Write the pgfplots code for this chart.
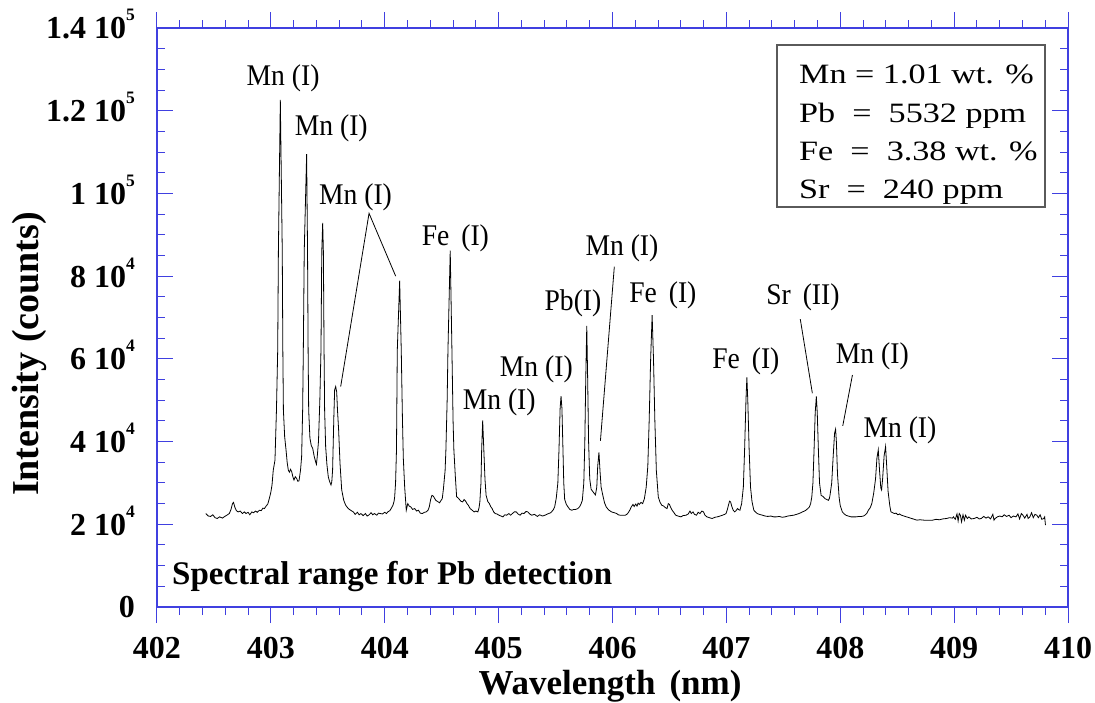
\documentclass[border=0pt]{standalone}
\usepackage{pgfplots}
\pgfplotsset{compat=1.18}
\usepackage{fontspec}
\setmainfont{Liberation Serif}
\newfontfamily\boxfont[FakeStretch=1.22]{Liberation Serif}
\newfontfamily\labfamily[FakeStretch=0.92]{Liberation Serif}

\definecolor{axisblue}{RGB}{64,64,224}
\definecolor{boxgray}{RGB}{90,90,90}

\newcommand\tickfont{\fontsize{32}{36}\selectfont\bfseries}
\newcommand\labfont{\labfamily\fontsize{30}{34}\selectfont}
\newcommand\boxtext{\boxfont\fontsize{28}{32}\selectfont}
\newcommand\tenexp[1]{10\raisebox{18pt}{\fontsize{17.5}{18}\selectfont\bfseries #1}}

\begin{document}
\begin{tikzpicture}
\begin{axis}[
  at={(157pt,-607pt)}, anchor=south west,
  scale only axis, width=911pt, height=579pt,
  xmin=402, xmax=410, ymin=0, ymax=140,
  xtick={402,403,...,410},
  xticklabels={402,403,404,405,406,407,408,409,410},
  minor x tick num=4,
  ytick={0,20,...,140},
  yticklabels={0,{2 \tenexp{4}},{4 \tenexp{4}},{6 \tenexp{4}},{8 \tenexp{4}},{1 \tenexp{5}},{1.2 \tenexp{5}},{1.4 \tenexp{5}}},
  minor y tick num=3,
  xtick align=outside, ytick align=inside,
  major tick length=16pt, minor tick length=8pt,
  axis line style={axisblue, line width=1.3pt},
  tick style={axisblue, line width=1pt},
  xticklabel style={font=\tickfont, anchor=base, inner sep=0pt, yshift=-35.3pt},
  yticklabel style={font=\tickfont, anchor=base east, inner sep=0pt, xshift=-22pt, yshift=-10.9pt},
  xlabel={Wavelength\hspace{0.4em}(nm)},
  xlabel style={font=\fontsize{35}{40}\selectfont\bfseries, at={(rel axis cs:0.4973,0)}, anchor=base, yshift=-87.5pt, inner sep=0pt},
  ylabel={Intensity (counts)},
  ylabel style={font=\fontsize{38}{42}\selectfont\bfseries, at={(rel axis cs:0,0.437)}, anchor=base, yshift=118.7pt, inner sep=0pt},
  clip=false,
]
% emission spectrum, intensity in thousands of counts
\addplot[black, line width=0.8pt] table {
402.428 22.6
402.450 22.0
402.471 21.9
402.490 22.3
402.510 21.6
402.529 21.4
402.550 21.8
402.575 21.5
402.595 21.9
402.613 22.2
402.635 22.6
402.650 23.6
402.663 25.0
402.672 25.3
402.684 24.1
402.697 23.3
402.712 23.0
402.731 23.2
402.750 22.6
402.768 23.0
402.781 22.6
402.800 22.9
402.815 22.3
402.833 23.0
402.848 22.8
402.866 23.2
402.880 22.9
402.899 23.4
402.915 23.3
402.930 23.9
402.943 23.8
402.958 24.4
402.973 24.9
402.988 26.4
403.000 27.8
403.010 29.5
403.021 33.1
403.036 35.5
403.049 47.6
403.060 62.2
403.066 86.0
403.083 122.6
403.100 86.0
403.105 62.2
403.110 47.6
403.121 41.2
403.133 38.0
403.143 35.0
403.153 33.1
403.163 32.6
403.173 33.3
403.183 32.7
403.193 31.5
403.203 30.7
403.214 31.5
403.226 31.1
403.237 30.4
403.247 30.5
403.260 33.0
403.270 36.3
403.279 47.6
403.285 62.2
403.293 86.0
403.314 109.5
403.322 86.0
403.327 62.2
403.332 47.6
403.343 40.8
403.355 39.0
403.367 38.4
403.380 36.5
403.393 35.1
403.400 34.5
403.407 36.3
403.418 40.0
403.430 50.0
403.440 62.2
403.447 86.0
403.455 92.9
403.461 86.0
403.467 62.2
403.472 47.6
403.481 38.8
403.492 34.5
403.504 31.5
403.515 30.4
403.528 29.5
403.535 30.3
403.542 33.1
403.553 46.0
403.560 52.5
403.569 53.3
403.578 52.0
403.585 47.6
403.595 42.8
403.607 34.8
403.622 28.3
403.640 25.8
403.657 24.6
403.680 23.8
403.700 23.4
403.724 23.0
403.740 22.4
403.760 22.9
403.775 22.3
403.791 22.6
403.810 22.1
403.830 22.6
403.845 22.0
403.859 22.2
403.880 22.8
403.895 22.3
403.909 22.6
403.930 22.2
403.945 22.7
403.960 22.6
403.980 22.5
404.000 22.9
404.015 22.6
404.027 23.0
404.045 23.3
404.060 24.0
404.072 24.6
404.082 25.6
404.087 26.6
404.095 30.0
404.103 38.0
404.110 62.0
404.131 78.9
404.145 62.0
404.155 46.0
404.163 36.0
404.175 29.0
404.189 23.4
404.202 25.0
404.215 24.4
404.229 24.2
404.245 23.6
404.263 23.8
404.280 23.2
404.296 23.4
404.312 22.7
404.330 22.6
404.348 22.9
404.364 23.0
404.380 23.4
404.391 24.2
404.403 26.0
404.414 27.0
404.423 26.9
404.431 26.6
404.448 25.8
404.465 25.5
404.481 25.2
404.495 25.8
404.505 26.2
404.515 28.5
404.530 33.0
404.537 38.0
404.548 50.0
404.555 62.0
404.575 86.2
404.590 62.0
404.600 45.0
404.607 38.0
404.620 31.5
404.631 26.7
404.650 26.2
404.668 25.6
404.684 25.4
404.697 26.0
404.710 25.6
404.722 25.0
404.734 24.6
404.750 23.8
404.768 23.4
404.785 23.0
404.800 23.2
404.818 23.0
404.828 24.0
404.835 25.4
404.845 30.0
404.851 38.0
404.860 45.1
404.870 38.0
404.880 31.0
404.890 27.0
404.905 25.5
404.919 25.0
404.930 24.3
404.943 23.8
404.956 23.0
404.970 22.6
404.985 22.5
405.003 22.2
405.020 22.0
405.037 21.8
405.055 22.3
405.071 22.2
405.090 22.6
405.105 22.2
405.121 22.6
405.138 23.0
405.155 23.0
405.170 22.5
405.189 22.2
405.205 22.7
405.222 22.6
405.240 23.1
405.256 23.0
405.273 22.5
405.290 22.2
405.315 22.4
405.340 21.9
405.360 22.3
405.385 22.0
405.407 22.2
405.430 22.5
405.458 22.8
405.480 23.5
405.492 24.2
405.506 26.3
405.520 30.0
405.530 38.0
405.540 48.0
405.548 51.0
405.556 48.0
405.565 38.0
405.572 30.0
405.580 26.0
405.595 24.8
405.609 24.2
405.625 23.6
405.643 23.4
405.660 23.6
405.677 23.6
405.695 23.8
405.710 24.2
405.725 25.0
405.735 25.8
405.748 30.0
405.757 40.0
405.765 55.0
405.774 68.0
405.782 55.0
405.790 40.0
405.800 31.0
405.812 28.5
405.830 27.8
405.850 27.1
405.862 29.0
405.870 34.0
405.881 37.4
405.890 33.0
405.900 29.0
405.915 27.0
405.930 25.2
405.945 24.2
405.965 23.5
405.991 23.0
406.015 22.8
406.037 22.6
406.050 22.3
406.067 22.2
406.090 22.2
406.113 22.2
406.130 22.5
406.143 23.0
406.155 23.6
406.165 24.2
406.180 24.8
406.190 24.3
406.204 24.9
406.215 24.4
406.225 25.1
406.235 24.8
406.250 25.3
406.265 25.0
406.280 26.2
406.296 29.0
406.310 34.0
406.322 45.0
406.335 60.0
406.348 70.6
406.360 60.0
406.372 45.0
406.385 33.0
406.402 26.6
406.418 25.3
406.433 24.6
406.450 24.4
406.465 24.0
406.479 23.8
406.490 25.0
406.500 24.8
406.509 24.2
406.524 23.4
406.540 22.8
406.555 22.2
406.575 22.0
406.601 21.8
406.620 22.1
406.646 22.2
406.665 22.5
406.680 23.2
406.692 22.6
406.707 23.0
406.720 22.4
406.738 22.2
406.752 22.9
406.768 22.6
406.785 23.2
406.799 23.0
406.812 22.2
406.829 21.8
406.850 21.6
406.875 21.4
406.900 21.7
406.921 21.8
406.945 22.0
406.966 22.2
406.985 22.4
406.997 22.6
407.008 23.5
407.018 24.6
407.028 25.6
407.037 25.4
407.049 24.2
407.060 23.4
407.073 23.0
407.085 23.3
407.098 23.8
407.110 23.5
407.119 23.4
407.134 25.0
407.149 29.0
407.160 38.0
407.172 50.0
407.180 55.5
407.188 50.0
407.200 38.0
407.212 29.0
407.225 25.5
407.241 23.4
407.255 23.0
407.271 22.6
407.290 22.4
407.317 22.2
407.340 22.0
407.363 21.9
407.390 22.0
407.415 21.8
407.439 21.8
407.465 21.9
407.490 21.7
407.515 21.8
407.540 22.0
407.565 22.1
407.591 22.2
407.615 22.4
407.637 22.6
407.655 22.8
407.668 23.0
407.685 23.2
407.698 23.4
407.715 23.8
407.729 24.2
407.740 25.0
407.750 26.6
407.760 30.0
407.770 38.0
407.780 47.0
407.790 50.9
407.798 47.0
407.808 38.0
407.818 30.0
407.832 27.0
407.850 26.7
407.866 26.2
407.882 26.0
407.896 25.8
407.905 26.3
407.910 27.0
407.925 30.0
407.937 36.0
407.950 42.0
407.959 43.0
407.966 40.0
407.976 32.0
407.990 26.5
408.000 24.5
408.018 23.0
408.035 22.5
408.049 22.2
408.070 22.0
408.095 21.8
408.118 21.8
408.140 21.8
408.165 21.9
408.186 21.9
408.205 22.0
408.216 22.2
408.232 22.6
408.247 23.4
408.263 24.0
408.277 25.0
408.293 27.4
408.310 31.0
408.322 36.0
408.334 38.0
408.345 33.0
408.356 28.8
408.363 28.3
408.372 31.0
408.385 36.5
408.398 38.8
408.408 34.0
408.420 28.0
408.435 24.5
408.445 23.0
408.460 22.8
408.476 22.6
408.490 22.7
408.506 22.3
408.520 22.5
408.537 22.2
408.560 22.0
408.582 21.8
408.605 21.6
408.628 21.4
408.650 21.2
408.674 21.0
408.700 21.1
408.735 21.0
408.770 21.0
408.811 21.0
408.840 21.2
408.872 21.1
408.900 21.3
408.933 21.4
408.960 21.6
408.985 21.5
408.994 21.8
409.010 21.2
409.025 22.5
409.035 20.8
409.045 22.6
409.055 22.2
409.065 20.6
409.078 22.3
409.090 21.0
409.100 22.2
409.116 21.4
409.130 21.8
409.150 21.3
409.177 21.4
409.200 21.7
409.220 21.3
409.238 21.4
409.260 21.9
409.280 21.5
409.299 21.8
409.320 21.3
409.340 22.4
409.350 21.0
409.360 21.4
409.380 21.8
409.400 22.0
409.421 21.8
409.440 22.3
409.460 21.9
409.482 22.2
409.500 21.6
409.520 22.0
409.543 21.8
409.560 22.5
409.575 21.3
409.590 22.6
409.604 22.2
409.620 21.5
409.640 22.4
409.650 21.4
409.665 21.8
409.680 22.8
409.695 21.6
409.710 22.4
409.726 22.2
409.740 21.6
409.755 22.3
409.770 21.2
409.787 21.4
409.795 21.8
409.802 19.8
};

% line identifications
\begin{scope}[every node/.style={font=\labfont, anchor=base, inner sep=0pt}]
\node at (axis cs:403.107,126.2) {Mn (I)};
\node at (axis cs:403.530,114.1) {Mn (I)};
\node at (axis cs:403.743,97.4) {Mn (I)};
\node at (axis cs:404.620,87.5) {Fe\hspace{0.4em}(I)};
\node at (axis cs:405.005,47.8) {Mn (I)};
\node at (axis cs:405.331,55.7) {Mn (I)};
\node at (axis cs:405.653,71.6) {Pb(I)};
\node at (axis cs:406.083,85.1) {Mn (I)};
\node at (axis cs:406.442,73.7) {Fe\hspace{0.4em}(I)};
\node at (axis cs:407.171,57.7) {Fe\hspace{0.4em}(I)};
\node at (axis cs:407.672,73.2) {Sr\hspace{0.4em}(II)};
\node at (axis cs:408.282,58.9) {Mn (I)};
\node at (axis cs:408.524,40.9) {Mn (I)};
\end{scope}

% leader lines
\draw[black, line width=0.8pt] (axis cs:403.613,53.3) -- (axis cs:403.862,95.2) -- (axis cs:404.096,80.0);
\draw[black, line width=0.8pt] (axis cs:406.016,82.3) -- (axis cs:405.894,40.2);
\draw[black, line width=0.8pt] (axis cs:407.649,69.6) -- (axis cs:407.755,51.7);
\draw[black, line width=0.8pt] (axis cs:408.107,56.1) -- (axis cs:408.022,43.8);
\end{axis}

% composition box
\draw[boxgray, line width=1.3pt, fill=white] (777pt,-45pt) rectangle (1045pt,-207pt);
\node[font=\boxtext, anchor=base west, inner sep=0pt] at (799pt,-83pt) {Mn = 1.01 wt. \%};
\node[font=\boxtext, anchor=base west, inner sep=0pt] at (799pt,-122pt) {Pb\ \ =\ \ 5532 ppm};
\node[font=\boxtext, anchor=base west, inner sep=0pt] at (799pt,-160pt) {Fe\ \ =\ \ 3.38 wt. \%};
\node[font=\boxtext, anchor=base west, inner sep=0pt] at (799pt,-198pt) {Sr\ \ =\ \ 240 ppm};

\node[font=\fontsize{33}{38}\selectfont\bfseries, anchor=base west, inner sep=0pt] at (172pt,-584.3pt) {Spectral range for Pb detection};

\pgfresetboundingbox
\useasboundingbox (0pt,0pt) rectangle (1095pt,-702pt);
\end{tikzpicture}
\end{document}
